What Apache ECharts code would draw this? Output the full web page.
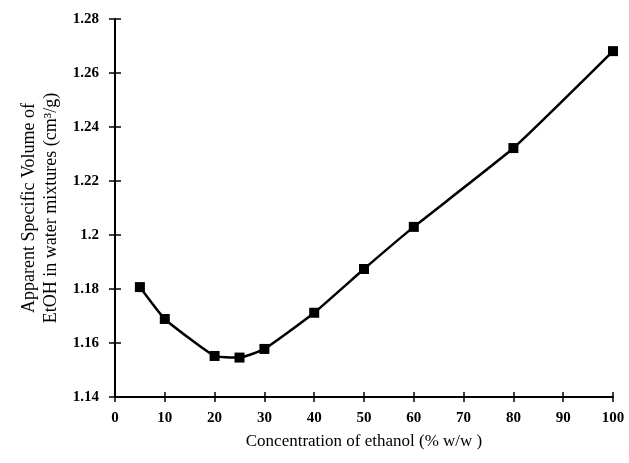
<!DOCTYPE html>
<html>
<head>
<meta charset="utf-8">
<script src="https://cdn.jsdelivr.net/npm/echarts@6/dist/echarts.min.js"></script>
<style>html,body{margin:0;padding:0;background:#fff}#c{width:629px;height:463px}</style>
</head>
<body>
<div id="c"></div>
<script>
var concentration = [5, 10, 20, 25, 30, 40, 50, 60, 80, 100];
var specificVolume = [1.1807, 1.1689, 1.1552, 1.1546, 1.1578, 1.1712, 1.1874, 1.2030, 1.2322, 1.2681];
var xTitle = 'Concentration of ethanol (% w/w )';
var yTitle = 'Apparent Specific Volume of\nEtOH in water mixtures (cm\u00B3/g)';

var serif = '"Liberation Serif", "DejaVu Serif", serif';
var chart = echarts.init(document.getElementById('c'));
var axisBase = {
  type: 'value',
  axisLine: { show: true, lineStyle: { color: '#000', width: 2 } },
  splitLine: { show: false },
  axisLabel: { color: '#000', fontFamily: serif, fontWeight: 'bold', fontSize: 15 }
};
chart.setOption({
  animation: false,
  backgroundColor: '#fff',
  grid: { left: 115, right: 16, top: 19, bottom: 66 },
  xAxis: [
    Object.assign({}, axisBase, {
      min: 0, max: 100, interval: 10, position: 'bottom',
      axisTick: { show: true, length: 5, lineStyle: { color: '#000', width: 1.5 } },
      axisLabel: Object.assign({}, axisBase.axisLabel, { margin: 14 }),
      name: xTitle, nameLocation: 'middle', nameGap: 36,
      nameTextStyle: { color: '#000', fontFamily: serif, fontSize: 17 }
    }),
    {
      type: 'value', min: 0, max: 100, interval: 10, position: 'bottom',
      axisLine: { show: false }, splitLine: { show: false }, axisLabel: { show: false },
      axisTick: { show: true, inside: true, length: 5, lineStyle: { color: '#000', width: 1.5 } }
    }
  ],
  yAxis: [
    Object.assign({}, axisBase, {
      min: 1.14, max: 1.28, interval: 0.02, position: 'left',
      axisTick: { show: true, length: 6, lineStyle: { color: '#000', width: 1.5 } },
      axisLabel: Object.assign({}, axisBase.axisLabel, { margin: 16 }),
      name: yTitle, nameLocation: 'middle', nameGap: 52, nameRotate: 90,
      nameTextStyle: { color: '#000', fontFamily: serif, fontSize: 18, lineHeight: 22 }
    }),
    {
      type: 'value', min: 1.14, max: 1.28, interval: 0.02, position: 'left',
      axisLine: { show: false }, splitLine: { show: false }, axisLabel: { show: false },
      axisTick: { show: true, inside: true, length: 6, lineStyle: { color: '#000', width: 1.5 } }
    }
  ],
  series: [{
    type: 'line',
    data: concentration.map(function (c, i) { return [c, specificVolume[i]]; }),
    smooth: 0.15,
    symbol: 'rect',
    symbolSize: 10,
    itemStyle: { color: '#000' },
    lineStyle: { color: '#000', width: 2.5 }
  }]
});
</script>
</body>
</html>
